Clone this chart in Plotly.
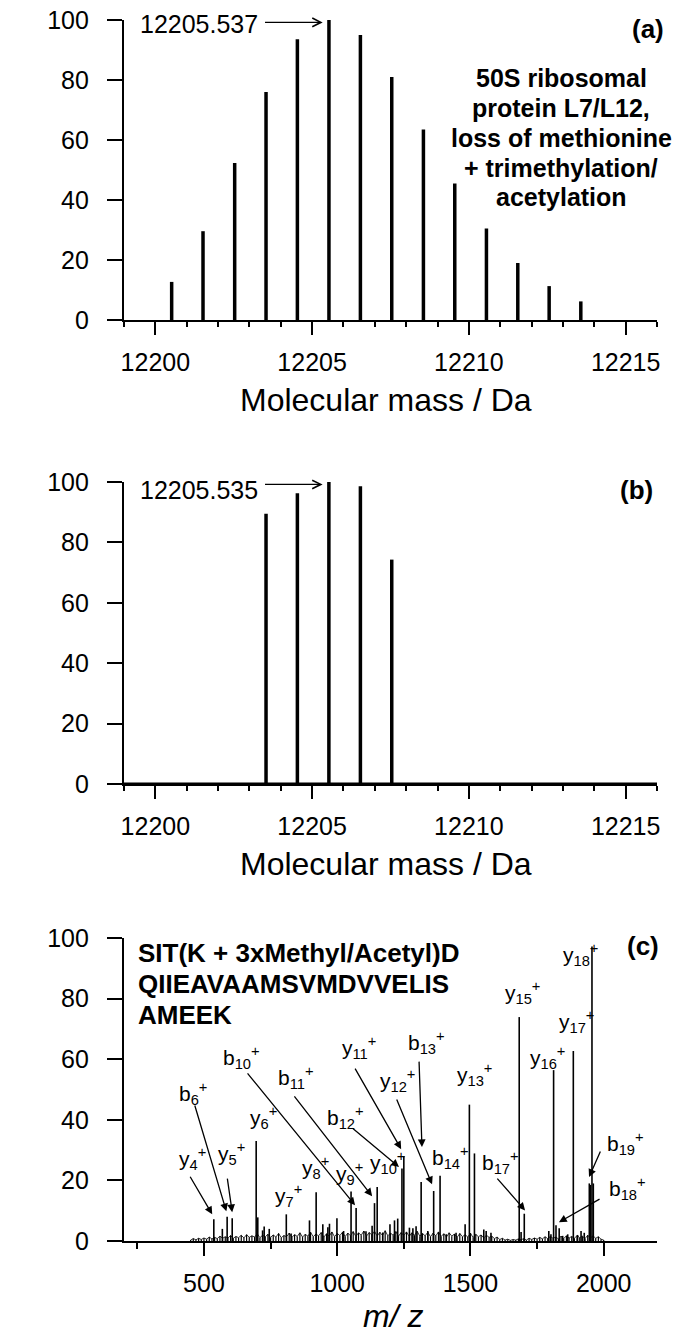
import plotly.graph_objects as go

FONT = "Liberation Sans, Arial, sans-serif"

# ---------------- Panel (a) ----------------
a_mass = [12200.52, 12201.52, 12202.53, 12203.53, 12204.53, 12205.537, 12206.54,
          12207.54, 12208.55, 12209.55, 12210.56, 12211.56, 12212.56, 12213.57]
a_int = [12.7, 29.6, 52.3, 76.0, 93.6, 100.0, 95.0, 81.0, 63.5, 45.5, 30.5, 19.0, 11.3, 6.2]
a_peak_label = "12205.537"
a_title_lines = ["50S ribosomal", "protein L7/L12,", "loss of methionine",
                 "+ trimethylation/", "acetylation"]

# ---------------- Panel (b) ----------------
b_mass = [12203.53, 12204.53, 12205.535, 12206.54, 12207.54]
b_int = [89.5, 96.3, 100.0, 98.6, 74.3]
b_peak_label = "12205.535"

mass_range = [12199, 12216]
mass_ticks = [12200, 12205, 12210, 12215]
mass_tick_text = ["12200", "12205", "12210", "12215"]

# ---------------- Panel (c) ----------------
c_mz = [537, 569, 587, 606, 696, 702, 720, 726, 745, 809, 827, 896, 921, 946, 965, 971,
        999, 1024, 1052, 1071, 1108, 1131, 1140, 1150, 1171, 1198, 1215, 1227, 1243,
        1250, 1271, 1284, 1296, 1315, 1340, 1362, 1386, 1409, 1446, 1480, 1496, 1515,
        1550, 1559, 1577, 1683, 1690, 1702, 1794, 1802, 1812, 1821, 1833, 1846, 1865,
        1886, 1902, 1915, 1927, 1946, 1950, 1956, 1961]
c_int = [7.2, 4.0, 8.0, 7.5, 33.0, 7.8, 3.5, 4.8, 4.0, 8.8, 2.5, 6.8, 16.1, 5.5, 4.5, 5.7,
         7.5, 3.3, 16.3, 10.9, 3.2, 5.0, 12.5, 17.8, 2.8, 5.5, 6.8, 7.4, 23.9,
         28.0, 4.4, 4.2, 4.9, 19.5, 3.3, 16.5, 21.5, 2.2, 2.7, 5.5, 45.0, 28.9,
         3.8, 3.3, 2.7, 73.9, 3.0, 9.0, 3.3, 2.2, 56.4, 5.2, 4.2, 1.7, 2.2,
         62.7, 2.0, 3.3, 2.7, 19.0, 18.5, 97.2, 19.0]

noise_mz = [450, 460, 470, 480, 490, 500, 510, 520, 530, 540,
            550, 560, 570, 580, 590, 600, 610, 620, 630, 640,
            650, 660, 670, 680, 690, 700, 710, 720, 730, 740,
            750, 760, 770, 780, 790, 800, 810, 820, 830, 840,
            850, 860, 870, 880, 890, 900, 910, 920, 930, 940,
            950, 960, 970, 980, 990, 1000, 1010, 1020, 1030, 1040,
            1050, 1060, 1070, 1080, 1090, 1100, 1110, 1120, 1130, 1140,
            1150, 1160, 1170, 1180, 1190, 1200, 1210, 1220, 1230, 1240,
            1250, 1260, 1270, 1280, 1290, 1300, 1310, 1320, 1330, 1340,
            1350, 1360, 1370, 1380, 1390, 1400, 1410, 1420, 1430, 1440,
            1450, 1460, 1470, 1480, 1490, 1500, 1510, 1520, 1530, 1540,
            1550, 1560, 1570, 1580, 1590, 1600, 1610, 1620, 1630, 1640,
            1650, 1660, 1670, 1680, 1690, 1700, 1710, 1720, 1730, 1740,
            1750, 1760, 1770, 1780, 1790, 1800, 1810, 1820, 1830, 1840,
            1850, 1860, 1870, 1880, 1890, 1900, 1910, 1920, 1930, 1940,
            1950, 1960, 1970, 1980, 1990, 2000]
noise_int = [0.3, 0.8, 0.4, 0.9, 0.5, 1.0, 0.6, 1.3, 0.7, 1.2,
             0.8, 1.6, 0.9, 1.4, 1.0, 1.8, 0.9, 1.5, 1.1, 1.9,
             1.0, 2.1, 1.2, 1.7, 1.3, 2.4, 1.1, 1.9, 1.4, 2.2,
             1.2, 2.0, 1.3, 2.5, 1.1, 1.8, 1.4, 2.6, 1.2, 2.1,
             1.5, 2.7, 1.3, 2.2, 1.6, 2.9, 1.4, 2.3, 1.7, 2.8,
             1.3, 2.4, 1.6, 3.0, 1.4, 2.5, 1.8, 2.9, 1.5, 2.6,
             1.7, 3.1, 1.5, 2.7, 1.9, 3.3, 1.6, 2.8, 2.0, 3.2,
             1.6, 2.9, 1.8, 3.4, 1.7, 2.6, 1.9, 3.1, 1.6, 2.8,
             1.8, 3.0, 1.5, 2.7, 1.9, 3.2, 1.6, 2.5, 1.7, 2.9,
             1.4, 2.6, 1.7, 3.0, 1.5, 2.4, 1.3, 2.7, 1.6, 2.3,
             1.2, 2.5, 1.4, 2.1, 1.3, 2.6, 1.1, 2.2, 1.4, 2.0,
             1.0, 1.9, 1.2, 1.6, 0.8, 1.3, 0.5, 0.9, 0.3, 0.6,
             0.2, 0.5, 0.3, 0.7, 0.4, 0.8, 0.3, 0.9, 0.5, 1.0,
             0.6, 1.2, 0.7, 1.4, 0.8, 1.5, 0.9, 1.3, 0.7, 1.6,
             0.8, 1.7, 1.0, 1.5, 0.9, 1.8, 1.1, 1.6, 0.8, 1.9,
             1.0, 1.7, 0.9, 1.4, 0.6, 0.3]

c_sequence_lines = ["SIT(K + 3xMethyl/Acetyl)D", "QIIEAVAAMSVMDVVELIS", "AMEEK"]

# fragment labels: text, m/z of left edge, intensity level of label centre
c_label_text = ["y<sub>4</sub><sup>+</sup>", "y<sub>5</sub><sup>+</sup>", "b<sub>6</sub><sup>+</sup>",
                "y<sub>6</sub><sup>+</sup>", "y<sub>7</sub><sup>+</sup>", "y<sub>8</sub><sup>+</sup>",
                "y<sub>9</sub><sup>+</sup>", "y<sub>10</sub><sup>+</sup>", "b<sub>10</sub><sup>+</sup>",
                "b<sub>11</sub><sup>+</sup>", "b<sub>12</sub><sup>+</sup>", "y<sub>11</sub><sup>+</sup>",
                "y<sub>12</sub><sup>+</sup>", "b<sub>13</sub><sup>+</sup>", "b<sub>14</sub><sup>+</sup>",
                "y<sub>13</sub><sup>+</sup>", "y<sub>15</sub><sup>+</sup>", "b<sub>17</sub><sup>+</sup>",
                "y<sub>16</sub><sup>+</sup>", "y<sub>17</sub><sup>+</sup>", "y<sub>18</sub><sup>+</sup>",
                "b<sub>19</sub><sup>+</sup>", "b<sub>18</sub><sup>+</sup>"]
c_label_mz = [397, 547, 400, 666, 760, 861, 989, 1116, 565, 771, 955, 1011, 1153, 1258,
              1349, 1443, 1622, 1536, 1716, 1825, 1840, 2005, 2013]
c_label_int = [27.3, 28.9, 48.8, 40.9, 15.1, 24.4, 22.4, 26.0, 60.7, 53.8, 40.9, 63.7, 53.1,
               65.4, 27.7, 54.8, 81.9, 26.0, 60.7, 72.3, 94.4, 32.3, 17.4]

# arrows: tail (m/z, int) -> head (m/z, int)
c_arrow_tail_mz = [445, 464, 587, 659, 835, 1052, 1064, 1221, 1307, 1596, 1990, 1990]
c_arrow_tail_int = [21.7, 45.2, 21.1, 55.8, 48.2, 37.6, 57.4, 47.2, 59.7, 21.1, 30.0, 14.1]
c_arrow_head_mz = [531, 584, 606, 1067, 1131, 1232, 1240, 1356, 1318, 1705, 1945, 1832]
c_arrow_head_int = [8.8, 9.8, 9.5, 11.8, 14.8, 24.4, 30.3, 18.7, 31.0, 10.1, 21.1, 6.2]

mz_range = [200, 2200]
mz_ticks = [500, 1000, 1500, 2000]
mz_tick_text = ["500", "1000", "1500", "2000"]

# ---------------- helpers ----------------
def sticks(xs, ys):
    X, Y = [], []
    for x, y in zip(xs, ys):
        X += [x, x, None]
        Y += [0, y, None]
    return X, Y

fig = go.Figure()

ax_, ay_ = sticks(a_mass, a_int)
fig.add_trace(go.Scatter(x=ax_, y=ay_, mode="lines", line=dict(color="black", width=3.5),
                         xaxis="x", yaxis="y", showlegend=False, hoverinfo="skip"))
bx_, by_ = sticks(b_mass, b_int)
fig.add_trace(go.Scatter(x=bx_, y=by_, mode="lines", line=dict(color="black", width=3.5),
                         xaxis="x2", yaxis="y2", showlegend=False, hoverinfo="skip"))
fig.add_trace(go.Scatter(x=mass_range, y=[0, 0], mode="lines", line=dict(color="black", width=3),
                         xaxis="x2", yaxis="y2", showlegend=False, hoverinfo="skip"))
nx_, ny_ = sticks(noise_mz, noise_int)
fig.add_trace(go.Scatter(x=nx_, y=ny_, mode="lines", line=dict(color="black", width=1.2),
                         xaxis="x3", yaxis="y3", showlegend=False, hoverinfo="skip"))
fig.add_trace(go.Scatter(x=noise_mz, y=noise_int, mode="lines", line=dict(color="black", width=0.8),
                         xaxis="x3", yaxis="y3", showlegend=False, hoverinfo="skip"))
cx_, cy_ = sticks(c_mz, c_int)
fig.add_trace(go.Scatter(x=cx_, y=cy_, mode="lines", line=dict(color="black", width=1.6),
                         xaxis="x3", yaxis="y3", showlegend=False, hoverinfo="skip"))

W, H = 681, 1339
xdom = [124 / W, 657 / W]

def ydom(top_px, bottom_px):
    return [1 - bottom_px / H, 1 - top_px / H]

tickfont = dict(family=FONT, size=25, color="black")
common_y = dict(range=[0, 100], tickvals=[0, 20, 40, 60, 80, 100],
                ticktext=["0", "20", "40", "60", "80", "100"], ticks="outside",
                ticklen=15, tickwidth=2, tickcolor="black", showline=True, linewidth=2.2,
                linecolor="black", showgrid=False, zeroline=False, tickfont=tickfont,
                ticklabelstandoff=13, fixedrange=True, automargin=False)

def xaxis_cfg(rng, tickvals, ticktext, minor_dtick, minor_tick0, anchor, minor_len):
    return dict(range=rng, tickvals=tickvals, ticktext=ticktext, ticks="outside", ticklen=13,
                tickwidth=2, tickcolor="black", showline=True, linewidth=2.2, linecolor="black",
                showgrid=False, zeroline=False, tickfont=tickfont, anchor=anchor,
                domain=xdom, ticklabelstandoff=6, fixedrange=True, automargin=False,
                minor=dict(dtick=minor_dtick, tick0=minor_tick0, ticks="outside",
                           ticklen=minor_len, tickwidth=2, tickcolor="black", showgrid=False))

fig.update_layout(
    template="none",
    width=W, height=H, margin=dict(l=0, r=0, t=0, b=0, pad=0, autoexpand=False),
    paper_bgcolor="white", plot_bgcolor="white",
    font=dict(family=FONT, color="black"),
    xaxis=xaxis_cfg(mass_range, mass_ticks, mass_tick_text, 1, 12199, "y", 5),
    yaxis=dict(domain=ydom(20, 320), anchor="x", **common_y),
    xaxis2=xaxis_cfg(mass_range, mass_ticks, mass_tick_text, 1, 12199, "y2", 5),
    yaxis2=dict(domain=ydom(482, 784), anchor="x2", **common_y),
    xaxis3=xaxis_cfg(mz_range, mz_ticks, mz_tick_text, 250, 250, "y3", 6),
    yaxis3=dict(domain=ydom(938, 1241), anchor="x3", **common_y),
)

ann = []
def paper_text(text, xpx, ypx, size, bold=False, italic=False, xanchor="center"):
    t = text
    if italic:
        t = "<i>" + t + "</i>"
    if bold:
        t = "<b>" + t + "</b>"
    ann.append(dict(text=t, x=xpx / W, y=1 - ypx / H, xref="paper", yref="paper",
                    xanchor=xanchor, yanchor="middle", showarrow=False,
                    font=dict(family=FONT, size=size, color="black")))

# axis titles
paper_text("Molecular mass / Da", 386, 400, 32)
paper_text("Molecular mass / Da", 386, 864, 32)
paper_text("m/ z", 393, 1316, 32, italic=True)

# panel letters
paper_text("(a)", 666, 29, 26, bold=True, xanchor="right")
paper_text("(b)", 655, 490, 26, bold=True, xanchor="right")
paper_text("(c)", 661, 946, 26, bold=True, xanchor="right")

# panel (a) description
for line, ypx in zip(a_title_lines, [78, 108, 138, 168, 197]):
    paper_text(line, 561, ypx, 25, bold=True)

# sequence in (c)
for line, ypx in zip(c_sequence_lines, [953, 984, 1015]):
    paper_text(line, 136, ypx, 26, bold=True, xanchor="left")

# peak mass labels with arrows (a), (b)
for xr, yr, lab, mass, ylab, yarr in [("x", "y", a_peak_label, a_mass[5], 98.8, 99.2),
                                       ("x2", "y2", b_peak_label, b_mass[2], 97.4, 99.2)]:
    ann.append(dict(text=lab, x=12199.45, y=ylab, xref=xr, yref=yr, xanchor="left",
                    yanchor="middle", showarrow=False,
                    font=dict(family=FONT, size=25, color="black")))
    ann.append(dict(text="", x=mass - 0.2, y=yarr, ax=12203.45, ay=yarr, xref=xr, yref=yr,
                    axref=xr, ayref=yr, showarrow=True, arrowhead=5, arrowsize=1.4,
                    arrowwidth=1.2, arrowcolor="black", standoff=0))

# fragment labels (c)
for t, m, i in zip(c_label_text, c_label_mz, c_label_int):
    ann.append(dict(text=t, x=m, y=i, xref="x3", yref="y3", xanchor="left", yanchor="middle",
                    showarrow=False, font=dict(family=FONT, size=21, color="black")))
for tm, ti, hm, hi in zip(c_arrow_tail_mz, c_arrow_tail_int, c_arrow_head_mz, c_arrow_head_int):
    ann.append(dict(text="", x=hm, y=hi, ax=tm, ay=ti, xref="x3", yref="y3", axref="x3",
                    ayref="y3", showarrow=True, arrowhead=2, arrowsize=1.2, arrowwidth=1.3,
                    arrowcolor="black", standoff=0))

fig.update_layout(annotations=ann)
fig.write_html("out.html")
